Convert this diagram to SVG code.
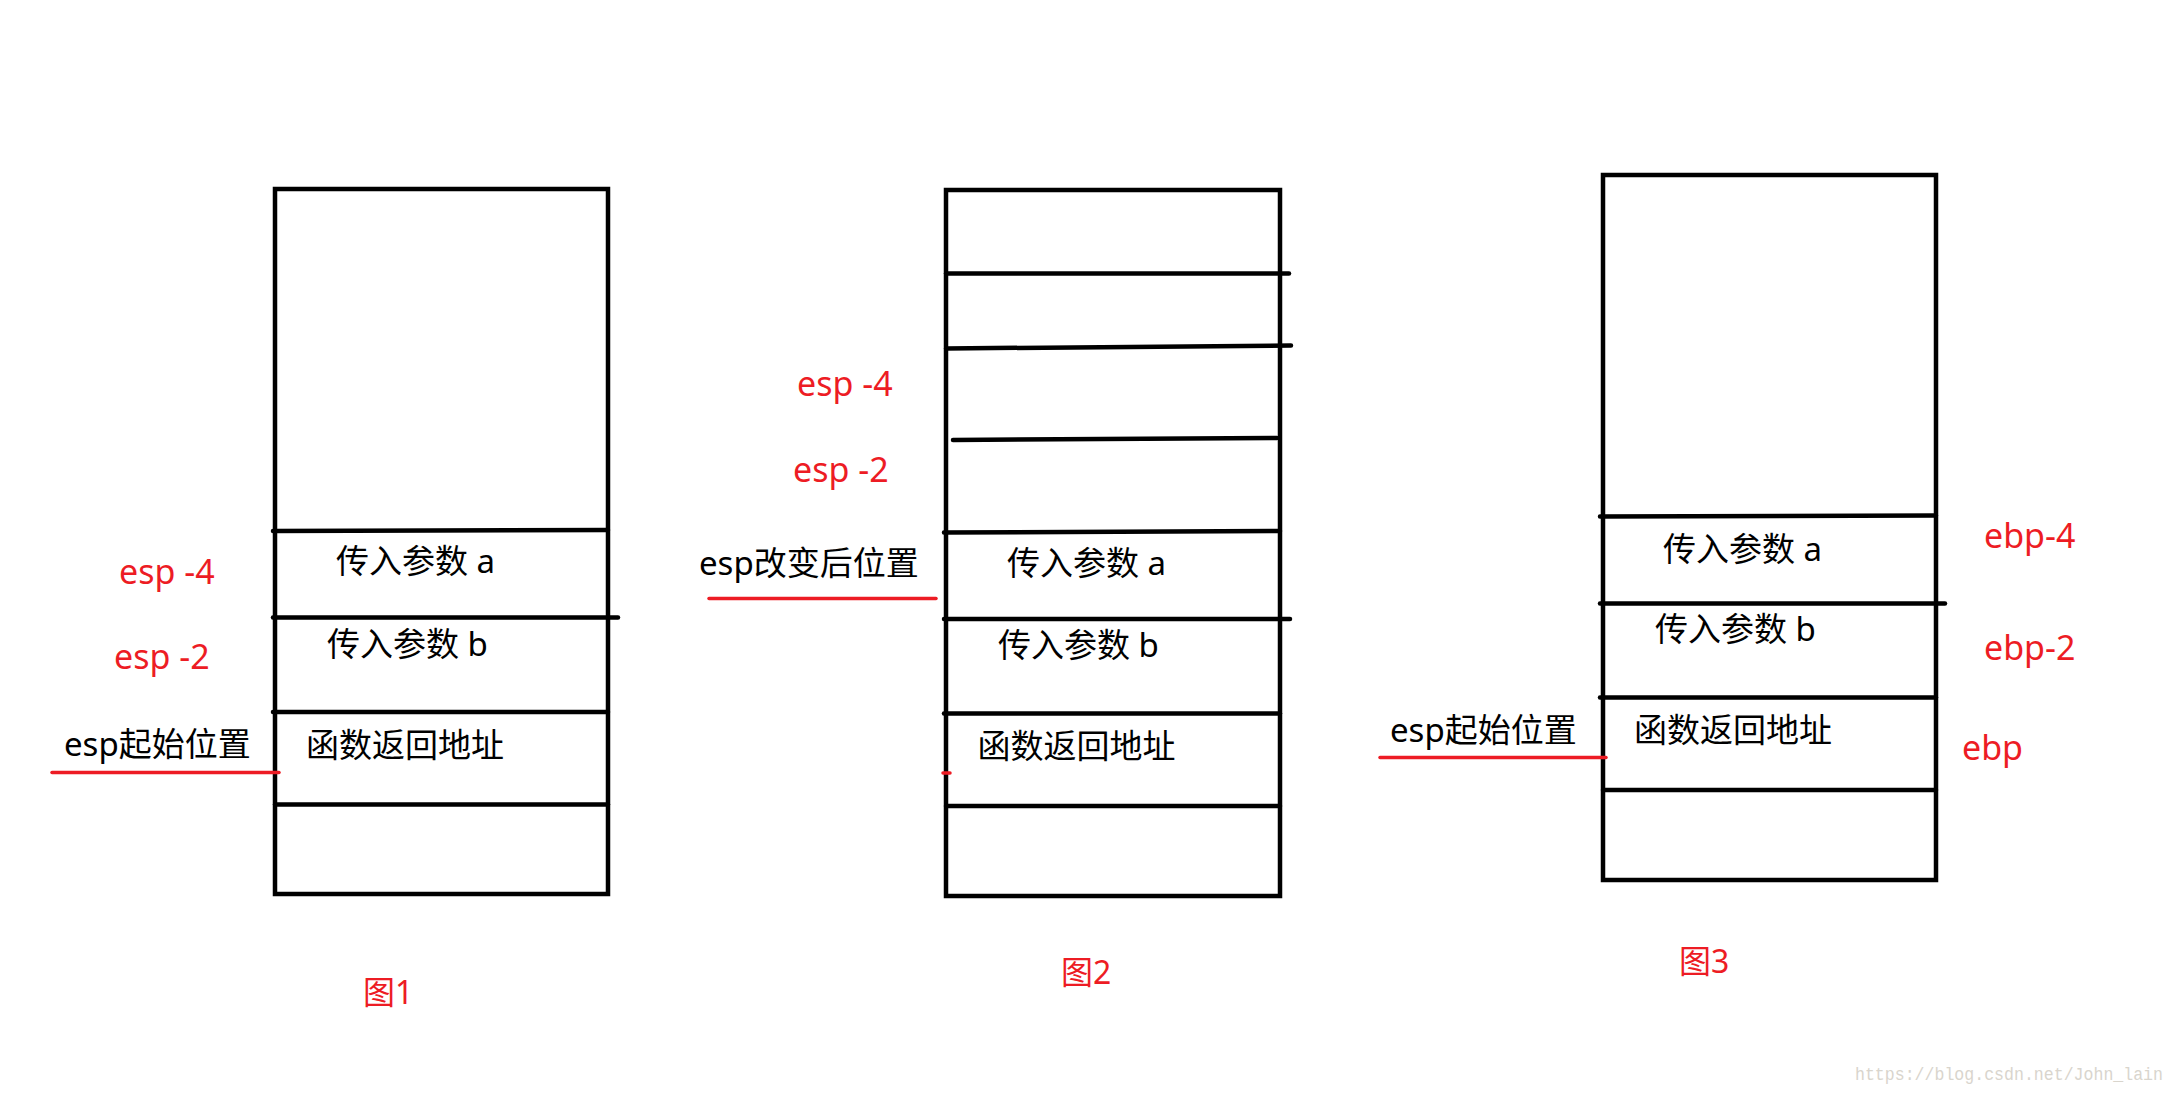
<svg xmlns="http://www.w3.org/2000/svg" width="2176" height="1096" viewBox="0 0 2176 1096">
<style>
.box{fill:none;stroke:#000;stroke-width:4.5}
.sep{stroke:#000;stroke-width:4.5;stroke-linecap:round}
.mark{stroke:#ed1c24;stroke-width:3.5;stroke-linecap:round}
.t{font-family:"Noto Sans","Noto Sans CJK SC",sans-serif;font-size:33px;fill:#000}
.r{font-family:"Noto Sans","Noto Sans CJK SC",sans-serif;font-size:34px;fill:#ed1c24}
.cap{font-family:"Noto Sans","Noto Sans CJK SC",sans-serif;font-size:32px;fill:#ed1c24}
.wm{font-family:"Liberation Mono",monospace;font-size:18px;fill:#d9d5cd}
</style>
<rect width="2176" height="1096" fill="#fff"/>

<g id="fig1">
  <rect class="box" x="275" y="189" width="333" height="705"/>
  <g id="fig1-lines">
    <line class="sep" x1="273" y1="531" x2="608" y2="530"/>
    <line class="sep" x1="273" y1="617.5" x2="618" y2="617.5"/>
    <line class="sep" x1="273" y1="712" x2="608" y2="712"/>
    <line class="sep" x1="275" y1="804.5" x2="608" y2="804.5"/>
  </g>
  <text class="t" x="336" y="573">传入参数 a</text>
  <text class="t" x="327" y="656">传入参数 b</text>
  <text class="t" x="306" y="757">函数返回地址</text>
  <text class="r" x="119" y="584">esp -4</text>
  <text class="r" x="114" y="669">esp -2</text>
  <text class="t" x="64" y="756">esp起始位置</text>
  <line class="mark" x1="52" y1="772.5" x2="279" y2="772.5"/>
  <text class="cap" x="363" y="1004">图1</text>
</g>

<g id="fig2">
  <rect class="box" x="946" y="190" width="334" height="706"/>
  <g id="fig2-lines">
    <line class="sep" x1="946" y1="273.5" x2="1289" y2="273.5"/>
    <line class="sep" x1="946" y1="348.5" x2="1291" y2="345.5"/>
    <line class="sep" x1="953" y1="440" x2="1277" y2="438"/>
    <line class="sep" x1="944" y1="532.5" x2="1280" y2="531"/>
    <line class="sep" x1="944" y1="619" x2="1290" y2="619"/>
    <line class="sep" x1="944" y1="713.5" x2="1280" y2="713.5"/>
    <line class="sep" x1="946" y1="806" x2="1280" y2="806"/>
  </g>
  <line class="mark" x1="943" y1="773" x2="950" y2="773"/>
  <text class="r" x="797" y="396">esp -4</text>
  <text class="r" x="793" y="481.5">esp -2</text>
  <text class="t" x="699" y="575">esp改变后位置</text>
  <line class="mark" x1="709" y1="598.5" x2="936" y2="598.5"/>
  <text class="t" x="1007" y="575">传入参数 a</text>
  <text class="t" x="998" y="656.5">传入参数 b</text>
  <text class="t" x="977.5" y="758">函数返回地址</text>
  <text class="cap" x="1061" y="984">图2</text>
</g>

<g id="fig3">
  <rect class="box" x="1603" y="175" width="333" height="705"/>
  <g id="fig3-lines">
    <line class="sep" x1="1600" y1="516.5" x2="1936" y2="515.5"/>
    <line class="sep" x1="1600" y1="603.5" x2="1945" y2="603.5"/>
    <line class="sep" x1="1600" y1="697.5" x2="1936" y2="697.5"/>
    <line class="sep" x1="1603" y1="790" x2="1936" y2="790"/>
  </g>
  <text class="t" x="1663" y="561">传入参数 a</text>
  <text class="t" x="1655" y="641">传入参数 b</text>
  <text class="t" x="1634" y="742">函数返回地址</text>
  <text class="t" x="1390" y="742">esp起始位置</text>
  <line class="mark" x1="1380" y1="757.5" x2="1606" y2="757.5"/>
  <text class="r" x="1984" y="548">ebp-4</text>
  <text class="r" x="1984" y="660">ebp-2</text>
  <text class="r" x="1962" y="760">ebp</text>
  <text class="cap" x="1679" y="973">图3</text>
</g>

<g id="connectors"></g>

<text class="wm" x="1855" y="1080" textLength="308" lengthAdjust="spacingAndGlyphs">https://blog.csdn.net/John_lain</text>
</svg>
